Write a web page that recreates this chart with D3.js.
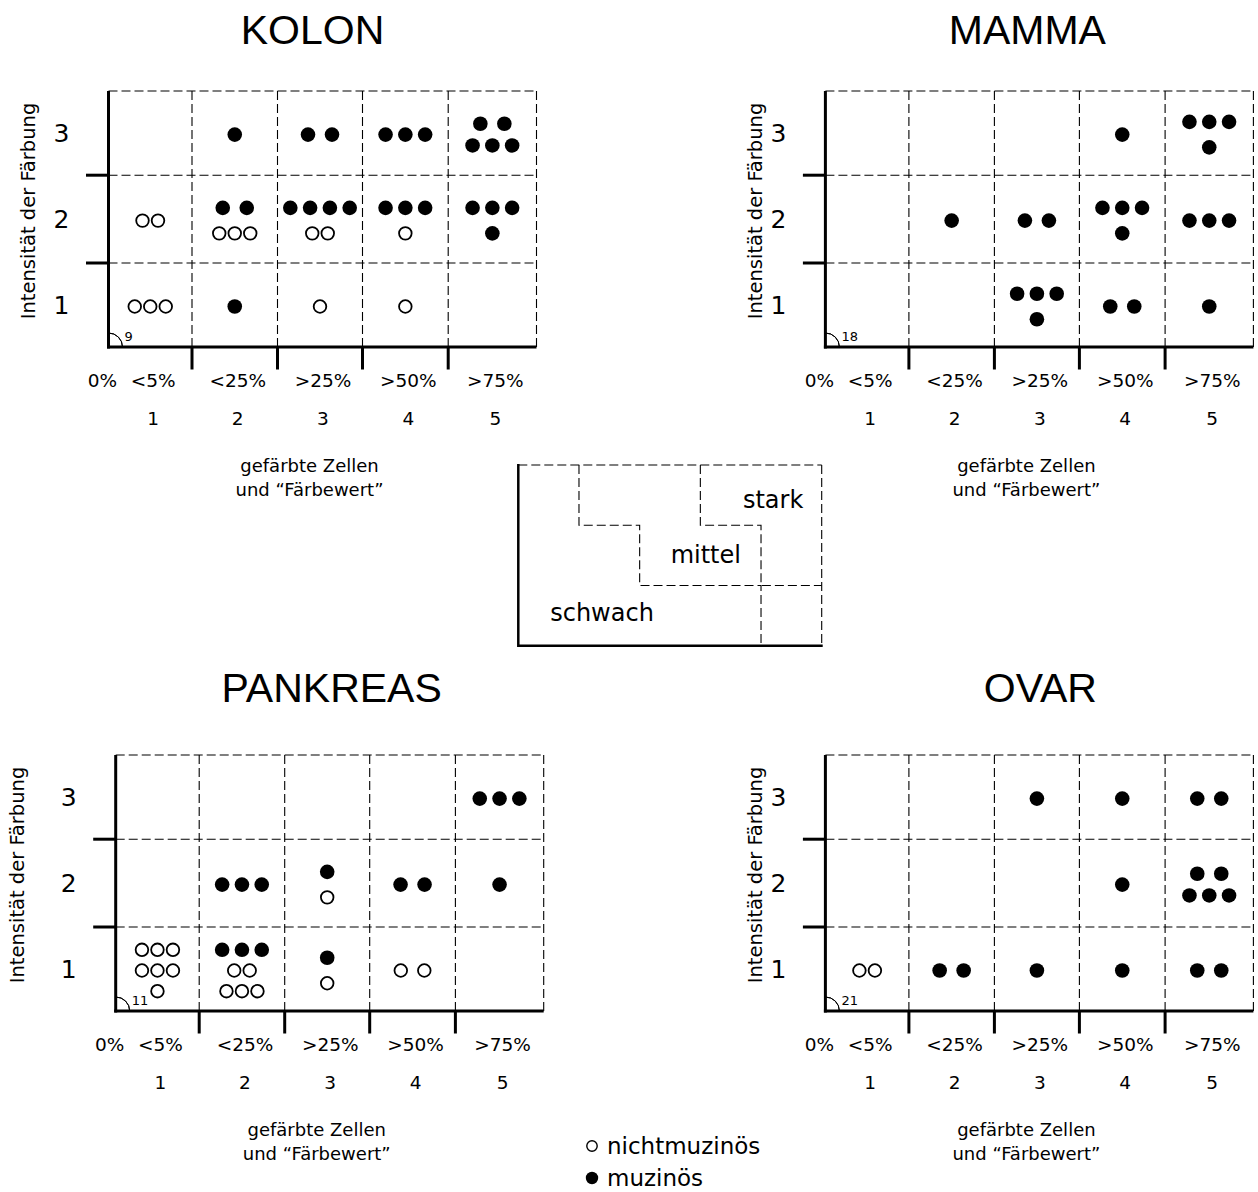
<!DOCTYPE html>
<html><head><meta charset="utf-8">
<script src="https://cdn.jsdelivr.net/npm/d3@7"></script>
<style>body{margin:0;background:#fff}</style>
</head><body>
<script>
// ---------- data ----------
const columnLabels = ["<5%", "<25%", ">25%", ">50%", ">75%"];
const columnNumbers = ["1", "2", "3", "4", "5"];
const rowLabels = ["1", "2", "3"];
const zeroLabel = "0%";
const xTitleLines = ["gefärbte Zellen", "und “Färbewert”"];
const yTitle = "Intensität der Färbung";
const panelTitles = ["KOLON", "MAMMA", "PANKREAS", "OVAR"];
const cornerNumbers = ["9", "18", "11", "21"];

// cells: [Spalte (Färbewert), Zeile (Intensität), Punktreihen]
// f = muzinös (gefüllt), o = nichtmuzinös (offen), Leerzeichen = weiterer Abstand
const kolonCells = [
  [1, 1, ["ooo"]], [1, 2, ["oo"]],
  [2, 1, ["f"]], [2, 2, ["ff", "ooo"]], [2, 3, ["f"]],
  [3, 1, ["o"]], [3, 2, ["ffff", "oo"]], [3, 3, ["ff"]],
  [4, 1, ["o"]], [4, 2, ["fff", "o"]], [4, 3, ["fff"]],
  [5, 2, ["fff", "f"]], [5, 3, ["ff", "fff"]]
];
const mammaCells = [
  [2, 2, ["f"]],
  [3, 1, ["fff", "f"]], [3, 2, ["ff"]],
  [4, 1, ["ff"]], [4, 2, ["fff", "f"]], [4, 3, ["f"]],
  [5, 1, ["f"]], [5, 2, ["fff"]], [5, 3, ["fff", "f"]]
];
const pankreasCells = [
  [1, 1, ["ooo", "ooo", "o"]],
  [2, 1, ["fff", "oo", "ooo"]], [2, 2, ["fff"]],
  [3, 1, ["f", "o"]], [3, 2, ["f", "o"]],
  [4, 1, ["o o"]], [4, 2, ["ff"]],
  [5, 2, ["f"]], [5, 3, ["fff"]]
];
const ovarCells = [
  [1, 1, ["oo"]],
  [2, 1, ["ff"]],
  [3, 1, ["f"]], [3, 3, ["f"]],
  [4, 1, ["f"]], [4, 2, ["f"]], [4, 3, ["f"]],
  [5, 1, ["ff"]], [5, 2, ["ff", "fff"]], [5, 3, ["ff"]]
];
const legendLabels = ["schwach", "mittel", "stark"];
const legendMittelBoundary = [[1, 3], [1, 2], [2, 2], [2, 1], [4, 1], [4, 0]];
const legendStarkBoundary = [[3, 3], [3, 2], [4, 2], [4, 1], [5, 1]];
const symbolLegend = [["o", "nichtmuzinös"], ["f", "muzinös"]];

// ---------- layout ----------
const W = 1258, H = 1192;
const colEdges = [0, 83.5, 169, 254, 339.7, 428];
const rowEdges = [256, 172, 84.2, 0];
const panels = [
  {x0: 108.5, y0: 91, cells: kolonCells, titleDx: 204, titleY: 43.5, yTitleDx: -81},
  {x0: 825.4, y0: 91, cells: mammaCells, titleDx: 202, titleY: 43.5, yTitleDx: -70},
  {x0: 115.7, y0: 755, cells: pankreasCells, titleDx: 216, titleY: 701.5, yTitleDx: -99},
  {x0: 825.4, y0: 755, cells: ovarCells, titleDx: 215, titleY: 701.5, yTitleDx: -70}
];
const FONT = "'DejaVu Sans', sans-serif";
const DASH = "9,4";
const R_FILLED = 7.3, R_OPEN = 6.3;

const svg = d3.select("body").append("svg")
  .attr("width", W).attr("height", H)
  .style("font-family", FONT);

function dotGap(type, n) {
  if (type === "f") return n === 2 ? 24 : 19.8;
  return 15.5;
}
function lineSpacing(lines) {
  if (lines.length >= 3) return 20.7;
  if (lines.length === 2) {
    const allF = lines.every(l => /^f+$/.test(l));
    const parityDiff = (lines[0].length % 2) !== (lines[1].length % 2);
    if (allF && parityDiff) return 21.7;
  }
  return 25.5;
}

panels.forEach((p, pi) => {
  const x = d3.scaleLinear().domain([0, 1, 2, 3, 4, 5]).range(colEdges.map(e => p.x0 + e));
  const y = d3.scaleLinear().domain([0, 1, 2, 3]).range(rowEdges.map(e => p.y0 + e));
  const g = svg.append("g");
  const x0 = x(0), x1 = x(5), yb = y(0), yt = y(3);

  // title
  g.append("text").attr("x", p.x0 + p.titleDx).attr("y", p.titleY)
    .attr("text-anchor", "middle").style("font-family", "'Liberation Sans', Arial, sans-serif")
    .style("font-size", "41px").text(panelTitles[pi]);

  // dashed grid
  const dashed = g.append("g").attr("stroke", "#000").attr("stroke-width", 1.1)
    .attr("stroke-dasharray", DASH).attr("fill", "none");
  [1, 2, 3].forEach(r => dashed.append("line")
    .attr("x1", x0).attr("x2", x1).attr("y1", y(r)).attr("y2", y(r)));
  [1, 2, 3, 4, 5].forEach(c => dashed.append("line")
    .attr("x1", x(c)).attr("x2", x(c)).attr("y1", yt).attr("y2", yb));

  // solid axes
  const solid = g.append("g").attr("stroke", "#000").attr("stroke-width", 3).attr("fill", "none");
  solid.append("line").attr("x1", x0).attr("x2", x0).attr("y1", yt).attr("y2", yb + 1.5);
  solid.append("line").attr("x1", x0 - 1.5).attr("x2", x1).attr("y1", yb).attr("y2", yb);
  [1, 2].forEach(r => solid.append("line")
    .attr("x1", x0 - 22.5).attr("x2", x0).attr("y1", y(r)).attr("y2", y(r)));
  [1, 2, 3, 4].forEach(c => solid.append("line")
    .attr("x1", x(c)).attr("x2", x(c)).attr("y1", yb).attr("y2", yb + 22.5));

  // corner arc + number
  g.append("path")
    .attr("d", d3.arc().innerRadius(14).outerRadius(14).startAngle(0).endAngle(Math.PI / 2)())
    .attr("transform", `translate(${x0},${yb})`)
    .attr("fill", "none").attr("stroke", "#000").attr("stroke-width", 1);
  g.append("text").attr("x", x0 + 16).attr("y", yb - 6).style("font-size", "13px")
    .text(cornerNumbers[pi]);

  // y labels
  rowLabels.forEach((t, i) => g.append("text")
    .attr("x", x0 - 47).attr("y", y(i + 0.5)).attr("dy", "0.36em")
    .attr("text-anchor", "middle").style("font-size", "25px").text(t));
  // y title
  const ym = (yt + yb) / 2 - 8;
  g.append("text").attr("transform", `translate(${x0 + p.yTitleDx},${ym}) rotate(-90)`)
    .attr("dy", "0.36em").attr("text-anchor", "middle").style("font-size", "19.5px").text(yTitle);

  // x labels
  g.append("text").attr("x", x0 - 6).attr("y", yb + 33).attr("dy", "0.36em")
    .attr("text-anchor", "middle").style("font-size", "18.5px").text(zeroLabel);
  columnLabels.forEach((t, i) => g.append("text")
    .attr("x", x(i + 0.5) + 3).attr("y", yb + 33).attr("dy", "0.36em")
    .attr("text-anchor", "middle").style("font-size", "18.5px").text(t));
  columnNumbers.forEach((t, i) => g.append("text")
    .attr("x", x(i + 0.5) + 3).attr("y", yb + 71).attr("dy", "0.36em")
    .attr("text-anchor", "middle").style("font-size", "18.5px").text(t));
  xTitleLines.forEach((t, i) => g.append("text")
    .attr("x", x0 + 201).attr("y", yb + 119 + i * 24).attr("dy", "0.36em")
    .attr("text-anchor", "middle").style("font-size", "18px").text(t));

  // dots
  p.cells.forEach(([c, r, lines]) => {
    const cx = x(c - 0.5), cy = y(r - 0.5) + 1.5;
    const sp = lineSpacing(lines);
    lines.forEach((line, li) => {
      const ly = cy + (li - (lines.length - 1) / 2) * sp;
      const n = line.replace(/ /g, "").length;
      const offs = [];
      let pos = 0, extra = 0, first = true;
      for (const ch of line) {
        if (ch === " ") { extra += 8; continue; }
        if (!first) pos += dotGap(ch, n) + extra;
        extra = 0; first = false;
        offs.push([pos, ch]);
      }
      const mid = pos / 2;
      offs.forEach(([o, ch]) => {
        g.append("circle").attr("cx", cx + o - mid).attr("cy", ly)
          .attr("r", ch === "f" ? R_FILLED : R_OPEN)
          .attr("fill", ch === "f" ? "#000" : "#fff")
          .attr("stroke", "#000").attr("stroke-width", ch === "f" ? 0 : 1.8);
      });
    });
  });
});

// ---------- center legend box ----------
const lx = d3.scaleLinear().domain([0, 5]).range([518.3, 821.7]);
const ly = d3.scaleLinear().domain([0, 3]).range([645.7, 465]);
const lg = svg.append("g");
lg.append("line").attr("x1", lx(0)).attr("x2", lx(5)).attr("y1", ly(3)).attr("y2", ly(3))
  .attr("stroke", "#000").attr("stroke-width", 1.1).attr("stroke-dasharray", DASH);
lg.append("line").attr("x1", lx(5)).attr("x2", lx(5)).attr("y1", ly(3)).attr("y2", ly(0))
  .attr("stroke", "#000").attr("stroke-width", 1.1).attr("stroke-dasharray", DASH);
lg.append("path").attr("d", d3.line()([[lx(0), ly(3) - 1], [lx(0), ly(0)], [lx(5) + 1, ly(0)]]))
  .attr("fill", "none").attr("stroke", "#000").attr("stroke-width", 2.5);
[legendMittelBoundary, legendStarkBoundary].forEach(b => lg.append("path")
  .attr("d", d3.line().x(d => lx(d[0])).y(d => ly(d[1]))(b))
  .attr("fill", "none").attr("stroke", "#000").attr("stroke-width", 1.1).attr("stroke-dasharray", DASH));
const legendTextPos = [[1.38, 0.56], [3.09, 1.51], [4.2, 2.43]];
legendLabels.forEach((t, i) => lg.append("text")
  .attr("x", lx(legendTextPos[i][0])).attr("y", ly(legendTextPos[i][1])).attr("dy", "0.36em")
  .attr("text-anchor", "middle").style("font-size", "24px").text(t));

// ---------- symbol legend ----------
symbolLegend.forEach(([ch, t], i) => {
  const yy = 1146 + i * 32;
  svg.append("circle").attr("cx", 592).attr("cy", yy).attr("r", ch === "f" ? 6.2 : 5.2)
    .attr("fill", ch === "f" ? "#000" : "#fff").attr("stroke", "#000")
    .attr("stroke-width", ch === "f" ? 0 : 1.4);
  svg.append("text").attr("x", 607).attr("y", yy).attr("dy", "0.36em")
    .style("font-size", "23px").text(t);
});
</script>
</body></html>
